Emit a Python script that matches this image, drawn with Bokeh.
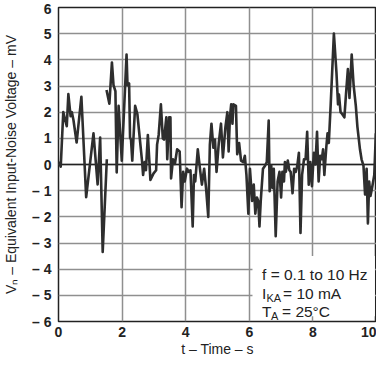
import numpy as np
from bokeh.plotting import figure
from bokeh.models import FixedTicker, Span, BoxAnnotation, Label, Range1d
from bokeh.embed import file_html
from bokeh.resources import INLINE

# Segment 1 (0 .. 1.5 s), then a break, then segment 2
seg1_t = [0.00, 0.07, 0.15, 0.26, 0.31, 0.38, 0.42, 0.47, 0.57, 0.72, 0.87, 1.10,
          1.23, 1.31, 1.39, 1.52]
seg1_v = [0.10, -0.08, 2.00, 1.46, 2.69, 1.85, 2.00, 1.70, 0.84, 2.59, -1.25, 1.19,
          -0.76, 1.03, -3.34, 0.20]

seg2_t = [1.51, 1.60, 1.68, 1.73, 1.79, 1.83, 1.89, 1.99, 2.14, 2.17, 2.22, 2.25,
          2.28, 2.32, 2.41, 2.48, 2.63, 2.66, 2.71, 2.75, 2.81, 2.89, 2.99, 3.07,
          3.10, 3.15, 3.22, 3.28, 3.32, 3.39, 3.42, 3.48, 3.52, 3.54, 3.60, 3.66,
          3.73, 3.81, 3.87, 3.92, 3.97, 4.04, 4.09, 4.15, 4.22, 4.26, 4.30, 4.38,
          4.46, 4.51, 4.58, 4.64, 4.71, 4.76, 4.81, 4.87, 4.92, 4.97, 5.04, 5.11,
          5.17, 5.25, 5.31, 5.35, 5.39, 5.43, 5.47, 5.50, 5.58, 5.62, 5.68, 5.74,
          5.81, 5.86, 5.91, 5.97, 6.02, 6.09, 6.14, 6.19, 6.24, 6.28, 6.32, 6.36,
          6.43, 6.50, 6.55, 6.61, 6.64, 6.69, 6.73, 6.77, 6.83, 6.89, 6.95, 7.00,
          7.04, 7.09, 7.12, 7.15, 7.21, 7.26, 7.30, 7.36, 7.41, 7.46, 7.51, 7.56,
          7.61, 7.66, 7.72, 7.77, 7.82, 7.87, 7.92, 7.97, 8.03, 8.08, 8.13, 8.18,
          8.23, 8.28, 8.32, 8.36, 8.42, 8.46, 8.50, 8.56, 8.66, 8.74, 8.79, 8.82,
          8.87, 8.92, 8.99, 9.04, 9.10, 9.15, 9.22, 9.28, 9.35, 9.40, 9.48, 9.53,
          9.59, 9.64, 9.69, 9.73, 9.77, 9.81, 9.86, 9.93, 9.98]
seg2_v = [2.85, 2.32, 3.90, 3.03, 2.80, -0.30, 2.24, 0.15, 4.20, 3.03, 3.10, 1.03,
          0.95, 0.15, 2.24, 1.93, 0.09, -0.40, 0.09, -0.22, 1.13, -0.59, -0.34, -0.22,
          0.76, 1.13, 2.30, 1.00, 0.95, 1.80, 0.20, 1.80, 1.80, -0.53, 0.20, 0.02,
          0.58, 0.50, -1.63, -0.28, -0.65, -0.16, -0.28, -0.22, -2.37, -0.40, -0.65, 0.58,
          -0.28, -0.77, -0.16, -0.90, -2.00, 0.76, 1.56, 0.64, 0.95, -0.28, 0.82, 1.56,
          0.27, 1.44, 2.00, 0.50, 1.80, 2.30, 1.56, 2.30, 2.24, 0.39, 0.82, 0.15,
          0.09, 0.33, -0.40, -1.88, -0.16, -1.39, -0.77, -1.88, -1.26, -1.39, -2.37, -1.39,
          -0.16, -0.04, 0.09, 1.68, -1.02, -0.04, -0.90, -0.16, -2.74, -0.65, -0.28, -1.26,
          -0.28, -0.65, 0.09, -0.28, 0.15, -0.22, -0.28, -1.10, -0.16, -0.28, -0.04, 0.45,
          -2.62, -0.40, 0.20, 0.20, 1.25, -0.77, 0.09, -0.83, 0.45, 0.00, 1.25, -0.65,
          0.33, 0.20, 0.58, -0.40, 0.64, 1.19, 0.82, 2.30, 5.00, 3.53, 2.30, 2.67,
          2.00, 1.93, 1.80, 2.67, 3.65, 2.54, 4.20, 3.03, 2.24, 1.44, 0.58, 0.20,
          -0.04, -1.14, -0.16, -2.25, -0.65, -1.20, -0.90, -0.40, 1.19]

y_ticks = list(range(-6, 7))
x_ticks = [0, 2, 4, 6, 8, 10]
x_grid = [2, 4, 6, 8]
y_tick_labels = {v: (f"\u2013 {abs(v)}" if v < 0 else str(v)) for v in y_ticks}

time_s = np.array(seg1_t + [np.nan] + seg2_t)
noise_mv = np.array(seg1_v + [np.nan] + seg2_v)

FONT = "Liberation Sans"

p = figure(width=376, height=359, x_range=Range1d(0, 10), y_range=Range1d(-6, 6),
           output_backend="svg", toolbar_location=None,
           min_border_left=56, min_border_right=0, min_border_top=7, min_border_bottom=20)
p.background_fill_color = "white"
p.border_fill_color = "white"
p.outline_line_color = "#222222"
p.outline_line_width = 1.5

p.xaxis.ticker = FixedTicker(ticks=x_ticks)
p.yaxis.ticker = FixedTicker(ticks=y_ticks)
p.yaxis.major_label_overrides = y_tick_labels
for ax in (p.xaxis, p.yaxis):
    ax.axis_line_color = None
    ax.major_tick_line_color = None
    ax.minor_tick_line_color = None
    ax.major_tick_out = 0
    ax.major_tick_in = 0
    ax.minor_tick_out = 0
    ax.minor_tick_in = 0
    ax.major_label_text_font = FONT
    ax.major_label_text_font_size = "14px"
    ax.major_label_text_font_style = "bold"
    ax.major_label_text_color = "#222222"
    ax.axis_label_text_font = FONT
    ax.axis_label_text_font_size = "14px"
    ax.axis_label_text_font_style = "normal"
    ax.axis_label_text_color = "#222222"
p.yaxis.major_label_standoff = 7
p.xaxis.major_label_standoff = 5
p.yaxis.axis_label = "V\u2099 \u2013 Equivalent Input-Noise Voltage \u2013 mV"
p.xaxis.axis_label = "t \u2013 Time \u2013 s"
p.yaxis.axis_label_standoff = 10
p.xaxis.axis_label_standoff = 1

p.xgrid.ticker = FixedTicker(ticks=x_grid)
p.ygrid.ticker = FixedTicker(ticks=y_ticks)
p.xgrid.grid_line_color = "#8f8f8f"
p.ygrid.grid_line_color = "#8f8f8f"
p.xgrid.grid_line_width = 1.5
p.ygrid.grid_line_width = 1.5

p.add_layout(Span(location=0, dimension="width", line_color="#222222",
                  line_width=1.5, level="underlay"))
p.add_layout(BoxAnnotation(left=6.1, right=9.95, bottom=-5.8, top=-3.5,
                           fill_color="white", fill_alpha=1.0, line_color=None,
                           level="underlay"))

p.line(time_s, noise_mv, line_color="#2e2e2e", line_width=2.6, line_join="round")

tx = 6.4
fs = "15.5px"
sub = "11px"
col = "#222222"
p.add_layout(Label(x=tx, y=-4.2, text="f = 0.1 to 10 Hz", text_font=FONT,
                   text_font_size=fs, text_baseline="middle", text_color=col))
p.add_layout(Label(x=tx, y=-4.93, text="I", text_font=FONT,
                   text_font_size=fs, text_baseline="middle", text_color=col))
p.add_layout(Label(x=tx, y=-4.93, x_offset=4.5, y_offset=-4, text="KA", text_font=FONT,
                   text_font_size=sub, text_baseline="middle", text_color=col))
p.add_layout(Label(x=tx, y=-4.93, x_offset=21, text="= 10 mA", text_font=FONT,
                   text_font_size=fs, text_baseline="middle", text_color=col))
p.add_layout(Label(x=tx, y=-5.63, text="T", text_font=FONT,
                   text_font_size=fs, text_baseline="middle", text_color=col))
p.add_layout(Label(x=tx, y=-5.63, x_offset=9, y_offset=-4, text="A", text_font=FONT,
                   text_font_size=sub, text_baseline="middle", text_color=col))
p.add_layout(Label(x=tx, y=-5.63, x_offset=20, text="= 25\u00b0C", text_font=FONT,
                   text_font_size=fs, text_baseline="middle", text_color=col))

open("out.html", "w").write(file_html(p, INLINE))
